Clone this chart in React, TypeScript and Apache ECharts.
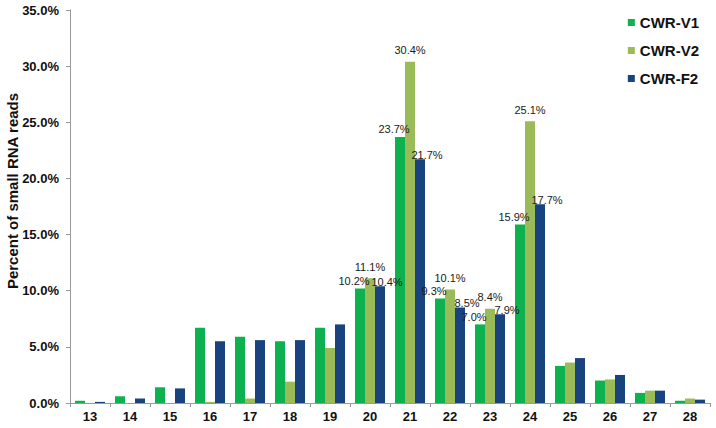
import React, { useEffect, useRef } from "react";
import * as echarts from "echarts";

const categories = ["13", "14", "15", "16", "17", "18", "19", "20", "21", "22", "23", "24", "25", "26", "27", "28"];
const v1 = [0.2, 0.6, 1.4, 6.7, 5.9, 5.5, 6.7, 10.2, 23.7, 9.3, 7.0, 15.9, 3.3, 2.0, 0.9, 0.2];
const v2 = [0.0, 0.0, 0.0, 0.1, 0.4, 1.9, 4.9, 11.1, 30.4, 10.1, 8.4, 25.1, 3.6, 2.1, 1.1, 0.4];
const f2 = [0.1, 0.4, 1.3, 5.5, 5.6, 5.6, 7.0, 10.4, 21.7, 8.5, 7.9, 17.7, 4.0, 2.5, 1.1, 0.3];
const labeledCategories = ["20", "21", "22", "23", "24"];
const seriesNames = ["CWR-V1", "CWR-V2", "CWR-F2"];
const seriesColors = ["#0DB14F", "#9BBB59", "#18437E"];
const yTitle = "Percent of small RNA reads";

export default function App() {
  const ref = useRef<HTMLDivElement>(null);
  useEffect(() => {
    if (!ref.current) return;
    const chart = echarts.init(ref.current, null, { renderer: "svg" });
    const font = "'Liberation Sans', Arial, sans-serif";
    const mk = (name: string, data: number[], color: string, offset: number[], distance: number) => ({
      name,
      type: "bar",
      barGap: "0%",
      barCategoryGap: "25%",
      itemStyle: { color },
      data: data.map((v, i) => ({
        value: v,
        label: {
          show: labeledCategories.includes(categories[i]),
        },
      })),
      label: {
        position: "top",
        distance,
        offset,
        fontSize: 11,
        color: "#1a1a1a",
        fontFamily: font,
        formatter: (p: any) => p.value.toFixed(1) + "%",
      },
    });
    chart.setOption({
      animation: false,
      textStyle: { fontFamily: font },
      legend: {
        orient: "vertical",
        right: 12,
        top: 10,
        itemWidth: 7,
        itemHeight: 7,
        itemGap: 13,
        icon: "rect",
        textStyle: { fontSize: 15, fontWeight: "bold", color: "#111", fontFamily: font },
        data: seriesNames,
      },
      graphic: [
        {
          type: "text",
          x: 12,
          y: 191,
          rotation: Math.PI / 2,
          style: {
            text: yTitle,
            fontSize: 15,
            fontWeight: "bold",
            fill: "#111",
            fontFamily: font,
            textAlign: "center",
            textVerticalAlign: "middle",
          },
        },
      ],
      grid: { left: 70, top: 10, right: 6, bottom: 25 },
      xAxis: {
        type: "category",
        data: categories,
        axisLine: { lineStyle: { color: "#999" } },
        axisTick: { show: true, alignWithLabel: false, length: 4, lineStyle: { color: "#999" } },
        axisLabel: { fontSize: 13, fontWeight: "bold", color: "#111", margin: 7, fontFamily: font },
      },
      yAxis: {
        type: "value",
        min: 0,
        max: 35,
        interval: 5,
        axisLine: { show: true, lineStyle: { color: "#999" } },
        axisTick: { show: true, length: 4, lineStyle: { color: "#999" } },
        splitLine: { show: false },
        axisLabel: {
          fontSize: 13,
          fontWeight: "bold",
          color: "#111",
          margin: 11,
          fontFamily: font,
          formatter: (v: number) => v.toFixed(1) + "%",
        },
      },
      series: [
        mk(seriesNames[0], v1, seriesColors[0], [-6, 0], 2),
        mk(seriesNames[1], v2, seriesColors[1], [0, 0], 6),
        mk(seriesNames[2], f2, seriesColors[2], [7, 0], -1),
      ],
    });
    return () => chart.dispose();
  }, []);
  return <div ref={ref} style={{ width: 716, height: 428, position: "absolute", left: 0, top: 0 }} />;
}
